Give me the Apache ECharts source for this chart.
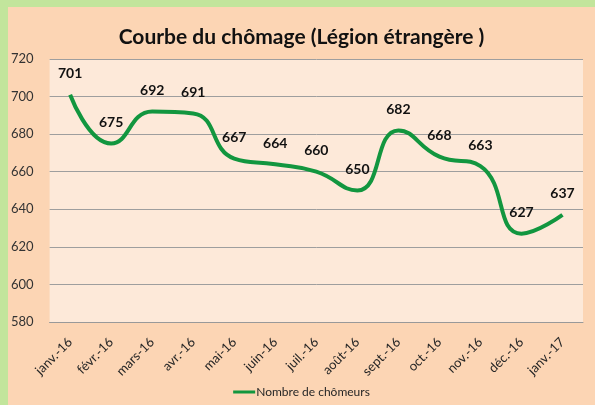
<!DOCTYPE html>
<html><head><meta charset="utf-8">
<script src="https://cdn.jsdelivr.net/npm/echarts@6/dist/echarts.min.js"></script>
<style>
html,body{margin:0;padding:0;background:#C2E59C;width:595px;height:405px;overflow:hidden;}
#c{position:absolute;left:8px;top:7px;width:587px;height:398px;background:#FCD5B4;}
</style></head>
<body><div id="c"></div>
<script>
const categories = ['janv.-16','févr.-16','mars-16','avr.-16','mai-16','juin-16','juil.-16','août-16','sept.-16','oct.-16','nov.-16','déc.-16','janv.-17'];
const chomeurs = [701,675,692,691,667,664,660,650,682,668,663,627,637];
const titleText = 'Courbe du chômage (Légion étrangère )';
const seriesName = 'Nombre de chômeurs';
const FONT = 'Lato, "Open Sans", sans-serif';
const chart = echarts.init(document.getElementById('c'));
chart.setOption({
  animation:false,
  title:{text:titleText,left:'center',top:15,textStyle:{fontFamily:FONT,fontSize:21,fontWeight:'bold',color:'#111'}},
  grid:{left:40,right:12,top:52,bottom:83,show:true,backgroundColor:'#FDE9D9',borderWidth:0},
  legend:{bottom:2,left:'center',itemWidth:22,itemHeight:3,itemGap:4,icon:'rect',
    textStyle:{fontFamily:FONT,fontSize:12,color:'#262626',padding:[0,0,0,-4]},data:[seriesName]},
  xAxis:{type:'category',data:categories,boundaryGap:true,
    axisLine:{lineStyle:{color:'#999',width:1}},axisTick:{show:false},
    axisLabel:{rotate:45,fontFamily:FONT,fontSize:13,color:'#262626',margin:18,interval:0}},
  yAxis:{type:'value',min:580,max:720,interval:20,
    axisLine:{show:false},axisTick:{show:false},
    splitLine:{lineStyle:{color:'#9E9E9E',width:1}},
    axisLabel:{fontFamily:FONT,fontSize:13,color:'#333',margin:16}},
  series:[{name:seriesName,type:'line',data:chomeurs,smooth:0.5,symbol:'circle',symbolSize:0.1,showAllSymbol:true,
    lineStyle:{color:'#12963F',width:4},itemStyle:{color:'#12963F'},
    label:{show:true,position:'top',distance:14,fontFamily:FONT,fontSize:14,fontWeight:'bold',color:'#111'}}]
});
</script></body></html>
